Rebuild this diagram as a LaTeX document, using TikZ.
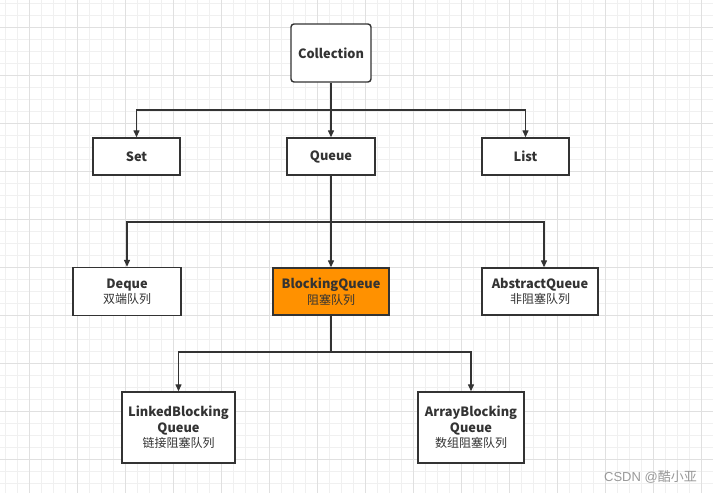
\documentclass[tikz,border=0pt]{standalone}
\usepackage{fontspec}
\setmainfont{Noto Sans CJK SC}
\newfontfamily\wmfont{Liberation Sans}
\usetikzlibrary{arrows.meta}
\definecolor{minorgrid}{RGB}{240,240,240}
\definecolor{majorgrid}{RGB}{224,224,224}
\definecolor{edgecol}{RGB}{51,51,51}
\definecolor{orangefill}{RGB}{255,145,0}
\tikzset{
  box/.style={draw=edgecol, line width=1.4pt, fill=white, minimum width=#1, inner sep=0pt, align=center, font=\fontsize{12}{15.5}\selectfont, text=edgecol},
  conn/.style={draw=edgecol, line width=1.3pt},
  arr/.style={conn, -{Triangle[length=7pt,width=6pt]}},
}
\newcommand{\en}[1]{{\fontsize{12.8}{15.5}\selectfont\textbf{#1}}}
\begin{document}
\begin{tikzpicture}[x=1pt,y=-1pt]
\useasboundingbox (0,0) rectangle (713,493);
\fill[white] (0,0) rectangle (713,493);
% grid
\foreach \i in {0,...,59} {
  \draw[minorgrid, line width=0.8pt] ({5.7+12*\i},0) -- ({5.7+12*\i},493);
}
\foreach \i in {0,...,41} {
  \draw[minorgrid, line width=0.8pt] (0,{3.3+12*\i}) -- (713,{3.3+12*\i});
}
\foreach \i in {0,...,14} {
  \draw[majorgrid, line width=0.8pt] ({29.7+48*\i},0) -- ({29.7+48*\i},493);
}
\foreach \i in {0,...,10} {
  \draw[majorgrid, line width=0.8pt] (0,{27.3+48*\i}) -- (713,{27.3+48*\i});
}
% nodes
\node[box=80pt, minimum height=58pt, rounded corners=3pt] (coll) at (331,53) {\en{Collection}};
\node[box=87pt, minimum height=37pt] (set) at (136.5,156.5) {\en{Set}};
\node[box=88pt, minimum height=37pt] (queue) at (331,156.5) {\en{Queue}};
\node[box=87pt, minimum height=37pt] (list) at (525.5,156.5) {\en{List}};
\node[box=108pt, minimum height=48pt] (deque) at (127,291.5) {\en{Deque}\\双端队列};
\node[box=116pt, minimum height=47pt, fill=orangefill] (bq) at (331,291.5) {\en{BlockingQueue}\\阻塞队列};
\node[box=116pt, minimum height=47pt] (aq) at (540,291.5) {\en{AbstractQueue}\\非阻塞队列};
\node[box=113pt, minimum height=71pt] (lbq) at (178.5,427.5) {\en{LinkedBlocking}\\\en{Queue}\\链接阻塞队列};
\node[box=106pt, minimum height=71pt] (abq) at (471,427.5) {\en{ArrayBlocking}\\\en{Queue}\\数组阻塞队列};
% connectors
\coordinate (j1) at (331,110);
\draw[conn] (coll.south) -- (j1);
\draw[arr] (j1) -| (set.north);
\draw[arr] (j1) -- (queue.north);
\draw[arr] (j1) -| (list.north);
\coordinate (j2) at (331,222);
\draw[conn] (queue.south) -- (j2);
\draw[arr] (j2) -| (deque.north);
\draw[arr] (j2) -- (bq.north);
\draw[arr] (j2) -| ([xshift=4pt]aq.north);
\coordinate (j3) at (331,352);
\draw[conn] (bq.south) -- (j3);
\draw[arr] (j3) -| (lbq.north);
\draw[arr] (j3) -| (abq.north);
% watermark
\node[anchor=east, text=gray!80, font=\fontsize{13}{15}\selectfont, inner sep=0pt] (wm) at (697,477) {{\wmfont CSDN @}酷小亚};
\end{tikzpicture}
\end{document}
